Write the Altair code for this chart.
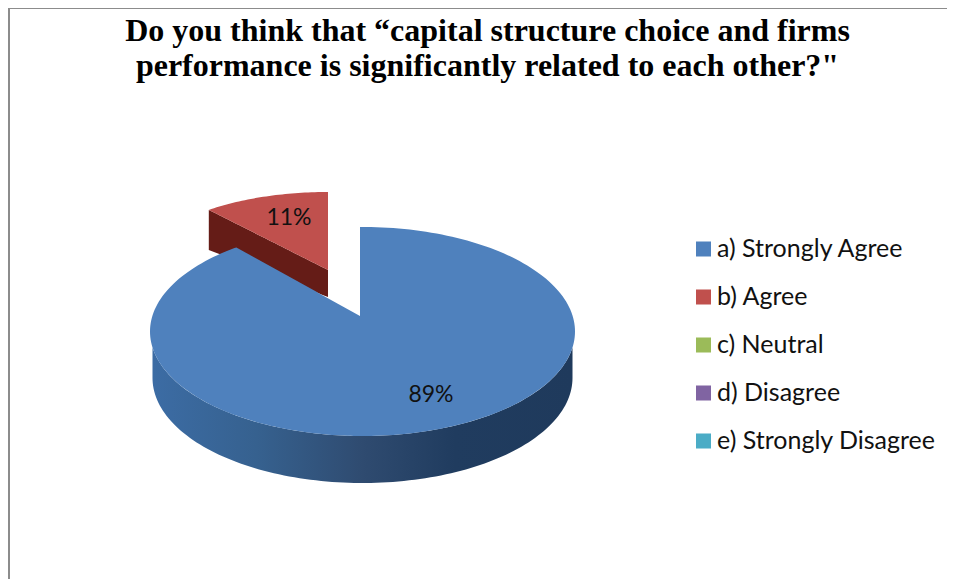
import numpy as np
import pandas as pd
import altair as alt

categories = ["a) Strongly Agree", "b) Agree", "c)  Neutral", "d) Disagree", "e) Strongly Disagree"]
shares = [89, 11, 0, 0, 0]
colors = ["#4f81bd", "#c0504d", "#9bbb59", "#8064a2", "#4bacc6"]
title_lines = ["Do you think that \u201ccapital structure choice and firms",
               "performance is significantly related to each other?\""]

W, H = 939, 571
SERIF = "Liberation Serif"
SANS = "Lato"

# layout of the tilted pie, in page pixels
BLUE = dict(cx=362.5, cy=331.5, rx=212.5, ry=104.5, ax=360.0, ay=316.0, skew=3.2)
BLUE_FLOOR = dict(cy=378.0, rx=210.0, ry=105.0)
RED = dict(cx=328.0, cy=270.0, rx=187.0, ry=78.0, ax=327.0, ay=270.0)
RED_DROP_LEFT, RED_DROP_RIGHT = 40.0, 27.0
LABEL_AT = {"a) Strongly Agree": (431, 395), "b) Agree": (289, 218)}


def upper(g, x):
    return g["cy"] - g["ry"] * np.sqrt(np.clip(1 - ((x - g["cx"]) / g["rx"]) ** 2, 0, 1))


def lower(g, x):
    return g["cy"] + g["ry"] * np.sqrt(np.clip(1 - ((x - g["cx"]) / g["rx"]) ** 2, 0, 1))


def sweep(cx, rx, a0=-90.0, a1=90.0, n=120):
    return cx + rx * np.sin(np.radians(np.linspace(a0, a1, n)))


blue_end = 360 * shares[0] / sum(shares) + BLUE["skew"]
bx = BLUE["cx"] + BLUE["rx"] * np.sin(np.radians(blue_end))
by = BLUE["cy"] - BLUE["ry"] * np.cos(np.radians(blue_end))

xs = sweep(BLUE["cx"], BLUE["rx"])
rows = []
left = xs[xs < bx]
for x in left:
    rows.append((x, upper(BLUE, x), lower(BLUE, x)))
for x in np.linspace(bx, BLUE["ax"], 40):
    y = by + (BLUE["ay"] - by) * (x - bx) / (BLUE["ax"] - bx)
    rows.append((x, y, lower(BLUE, x)))
for x in np.r_[BLUE["ax"], xs[xs > BLUE["ax"]]]:
    rows.append((x, upper(BLUE, x), lower(BLUE, x)))
blue_top = pd.DataFrame(rows, columns=["x", "y", "yb"]).assign(category=categories[0])

red_start = 360 * shares[0] / sum(shares)
rx0 = RED["cx"] + RED["rx"] * np.sin(np.radians(red_start))
ry0 = RED["cy"] - RED["ry"] * np.cos(np.radians(red_start))
rxs = RED["cx"] + RED["rx"] * np.sin(np.radians(np.linspace(red_start, 360, 40)))
red_line = ry0 + (RED["ay"] - ry0) * (rxs - rx0) / (rxs[-1] - rx0)
red_top = pd.DataFrame({"x": rxs, "y": upper(RED, rxs), "yb": red_line, "category": categories[1]})

top = pd.concat([blue_top, red_top], ignore_index=True)

frac = (rxs - rx0) / (rxs[-1] - rx0)
red_wall = pd.DataFrame({"x": rxs, "y": red_line,
                         "yb": red_line + RED_DROP_LEFT + (RED_DROP_RIGHT - RED_DROP_LEFT) * frac})

wx = sweep(BLUE["cx"], BLUE_FLOOR["rx"])
floor = dict(cx=BLUE["cx"], cy=BLUE_FLOOR["cy"], rx=BLUE_FLOOR["rx"], ry=BLUE_FLOOR["ry"])
blue_wall = pd.DataFrame({"x": wx, "y": lower(BLUE, wx), "yb": lower(floor, wx)})

labels = pd.DataFrame([{"text": f"{s}%", "x": LABEL_AT[c][0], "y": LABEL_AT[c][1]}
                       for c, s in zip(categories, shares) if s > 0])

X = alt.X("x:Q", axis=None, scale=alt.Scale(domain=[8, 8 + W], nice=False, zero=False))
Y = alt.Y("y:Q", axis=None, scale=alt.Scale(domain=[8, 8 + H], nice=False, zero=False, reverse=True))
Y2 = alt.Y2("yb")

wall_grad = alt.Gradient(
    gradient="linear", x1=0, x2=1, y1=0, y2=0,
    stops=[alt.GradientStop(color="#3c6ca4", offset=0),
           alt.GradientStop(color="#36618f", offset=0.25),
           alt.GradientStop(color="#2f4b70", offset=0.5),
           alt.GradientStop(color="#203c5f", offset=0.72),
           alt.GradientStop(color="#1f3a5c", offset=1)])

red_wall_layer = alt.Chart(red_wall).mark_area(color="#651c17", orient="vertical").encode(x=X, y=Y, y2=Y2)
blue_wall_layer = alt.Chart(blue_wall).mark_area(color=wall_grad, orient="vertical").encode(x=X, y=Y, y2=Y2)

top_layer = alt.Chart(top).mark_area(orient="vertical").encode(
    x=X, y=Y, y2=Y2,
    color=alt.Color("category:N",
                    scale=alt.Scale(domain=categories, range=colors),
                    sort=categories,
                    legend=alt.Legend(title=None, orient="none", legendX=683, legendY=227,
                                      symbolType="square", symbolSize=225, symbolStrokeWidth=0,
                                      symbolOpacity=1,
                                      labelFont=SANS, labelFontSize=25, labelColor="#111111",
                                      labelOffset=1, labelLimit=400, rowPadding=20, clipHeight=28)),
)

label_layer = alt.Chart(labels).mark_text(font=SANS, fontSize=23, color="#111111").encode(
    x=X, y=Y, text="text:N")

frame_left = alt.Chart(pd.DataFrame({"a": [0]})).mark_rule(color="#8c8c8c", strokeWidth=2).encode(
    x=alt.value(1), y=alt.value(0), y2=alt.value(H))
frame_top = alt.Chart(pd.DataFrame({"a": [0]})).mark_rule(color="#8c8c8c", strokeWidth=2).encode(
    y=alt.value(0), x=alt.value(0), x2=alt.value(W))

chart = alt.layer(red_wall_layer, blue_wall_layer, top_layer, label_layer, frame_left, frame_top).properties(
    width=W, height=H, padding=0, autosize=alt.AutoSizeParams(type="none"),
    title=alt.TitleParams(text=title_lines, font=SERIF, fontSize=32, fontWeight="bold", color="#000000",
                          anchor="middle", dx=10, offset=-76, lineHeight=35),
).configure_view(stroke=None)

chart.save("out.html", embed_options={"renderer": "svg", "actions": False})
